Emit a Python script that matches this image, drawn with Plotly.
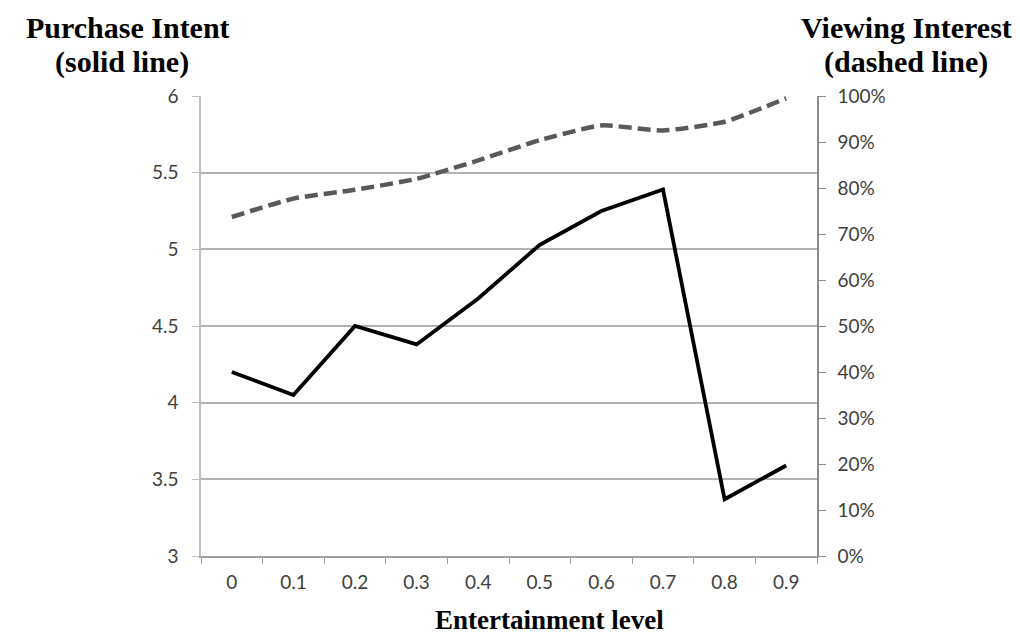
import plotly.graph_objects as go

levels = ["0", "0.1", "0.2", "0.3", "0.4", "0.5", "0.6", "0.7", "0.8", "0.9"]
purchase_intent = [4.20, 4.05, 4.50, 4.38, 4.68, 5.03, 5.25, 5.39, 3.37, 3.59]
viewing_interest = [0.737, 0.777, 0.796, 0.820, 0.860, 0.904, 0.936, 0.925, 0.944, 0.995]

fig = go.Figure()
fig.add_trace(go.Scatter(x=levels, y=purchase_intent, mode="lines",
                         line=dict(color="#000000", width=3.8), yaxis="y"))
fig.add_trace(go.Scatter(x=levels, y=viewing_interest, mode="lines",
                         line=dict(color="#595959", width=4.5, dash="13px,6px", shape="spline", smoothing=0.5),
                         yaxis="y2"))

tickfont = dict(family="Lato, Open Sans, sans-serif", size=19, color="#404040")
titlefont = dict(family="Liberation Serif, Times New Roman, serif", size=30, color="#000000")
xtitlefont = dict(family="Liberation Serif, Times New Roman, serif", size=27, color="#000000")

def ann(text, x, y, font):
    return dict(text="<b>" + text + "</b>", xref="paper", yref="paper", x=x, y=y,
                xanchor="center", yanchor="middle", showarrow=False, font=font)

fig.update_layout(
    width=1020, height=637,
    margin=dict(l=193, r=211, t=88, b=89),
    paper_bgcolor="white", plot_bgcolor="white",
    showlegend=False,
    xaxis=dict(type="category", tickson="boundaries", ticks="outside", ticklen=6,
               tickcolor="#a0a0a0", showline=True, linecolor="#a0a0a0", linewidth=1.5,
               showgrid=False, tickfont=tickfont, range=[-0.5, 9.5], ticklabelstandoff=8),
    yaxis=dict(range=[3, 6], dtick=0.5, ticks="outside", ticklen=7, tickcolor="#bfbfbf",
               showline=True, linecolor="#bfbfbf", linewidth=1.5,
               showgrid=True, gridcolor="#b3b3b3", gridwidth=1.5, zeroline=False,
               tickfont=tickfont, ticklabelstandoff=10),
    yaxis2=dict(range=[0, 1], dtick=0.1, tickformat=".0%", overlaying="y", side="right",
                ticks="outside", ticklen=7, tickcolor="#8c8c8c",
                showline=True, linecolor="#8c8c8c", linewidth=1.5,
                showgrid=False, zeroline=False, tickfont=tickfont, ticklabelstandoff=8),
    annotations=[
        ann("Purchase Intent", -0.119, 1.148, titlefont),
        ann("(solid line)", -0.128, 1.075, titlefont),
        ann("Viewing Interest", 1.145, 1.148, titlefont),
        ann("(dashed line)", 1.145, 1.075, titlefont),
        ann("Entertainment level", 0.566, -0.140, xtitlefont),
    ],
)

fig.write_html("out.html")
